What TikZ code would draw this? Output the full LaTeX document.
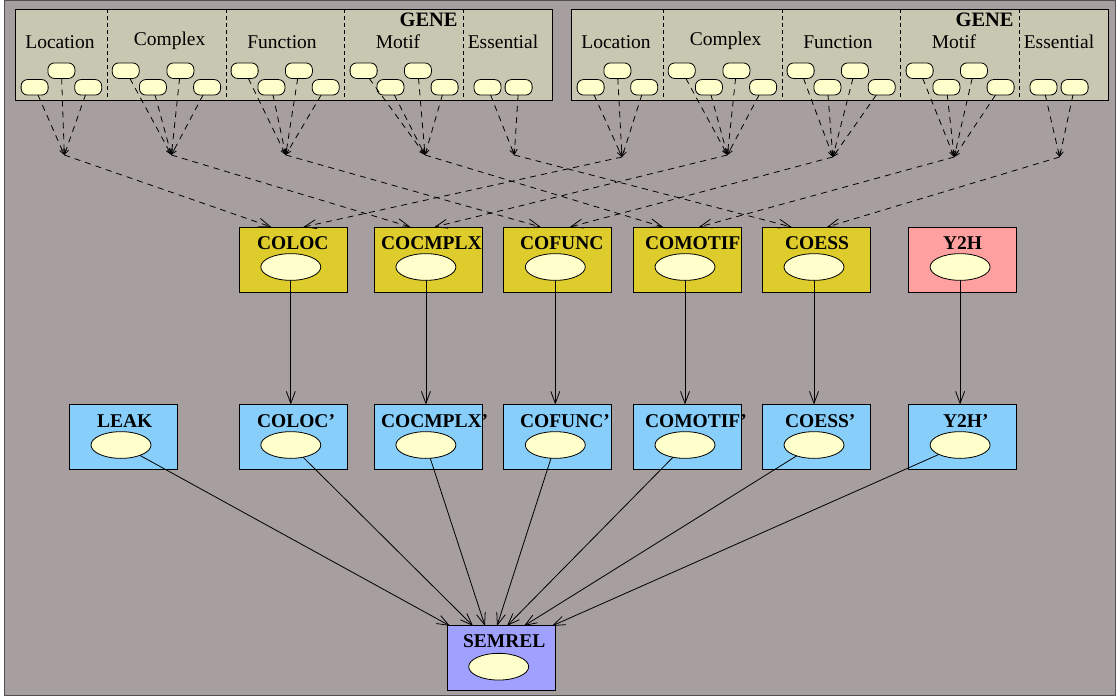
\documentclass[tikz,border=0pt]{standalone}
\usepackage{fontspec}
\setmainfont{Liberation Serif}
\usetikzlibrary{arrows.meta,shapes.geometric}

\definecolor{canvas}{RGB}{166,158,159}
\definecolor{framegray}{RGB}{80,80,80}
\definecolor{genefill}{RGB}{200,200,178}
\definecolor{pillfill}{RGB}{255,255,204}
\definecolor{cofill}{RGB}{221,204,43}
\definecolor{yfill}{RGB}{255,160,160}
\definecolor{bluefill}{RGB}{135,206,250}
\definecolor{semfill}{RGB}{160,160,255}

\begin{document}
\begin{tikzpicture}[x=1pt,y=-1pt,
  every node/.style={inner sep=0pt, outer sep=0pt},
  lbl/.style={anchor=base, font=\fontsize{19.5}{22}\selectfont},
  ttl/.style={anchor=base west, font=\fontsize{19.5}{22}\selectfont\bfseries},
  genebox/.style={draw=black, line width=0.9pt, fill=genefill,
    minimum width=537.5pt, minimum height=91pt},
  pill/.style={draw=black, line width=0.8pt, fill=pillfill, rounded corners=6.5pt,
    minimum width=27pt, minimum height=15.5pt},
  oval/.style={ellipse, draw=black, line width=0.8pt, fill=pillfill,
    minimum width=60pt, minimum height=26.7pt},
  varbox/.style={draw=black, line width=0.9pt, minimum width=108pt, minimum height=65pt},
  cobox/.style={varbox, fill=cofill},
  ybox/.style={varbox, fill=yfill},
  bluebox/.style={varbox, fill=bluefill},
  sembox/.style={varbox, fill=semfill},
  sep/.style={line width=0.7pt, dash pattern=on 4pt off 3pt},
  feed/.style={line width=0.8pt, dash pattern=on 6pt off 5pt,
    -{Straight Barb[length=5pt,width=5pt]}},
  link/.style={line width=0.8pt, dash pattern=on 6pt off 5pt,
    -{Straight Barb[length=12pt,width=9pt]}},
  solidarrow/.style={line width=0.8pt, -{Straight Barb[length=12pt,width=9pt]}}
]
\useasboundingbox (0,0) rectangle (1116,698);
\fill[white] (0,0) rectangle (1116,698);
\draw[fill=canvas, draw=framegray, line width=1pt] (4.6,0.5) rectangle (1115,695.5);

% junction points below the two GENE blocks
\coordinate (ja-loc) at (64.3,155);
\coordinate (ja-cx)  at (171.4,155);
\coordinate (ja-fn)  at (285.7,155);
\coordinate (ja-mo)  at (425,155);
\coordinate (ja-es)  at (514.3,155);
\coordinate (jb-loc) at (622,157);
\coordinate (jb-cx)  at (727.4,155);
\coordinate (jb-fn)  at (832.8,157);
\coordinate (jb-mo)  at (954.2,157);
\coordinate (jb-es)  at (1059.6,157);

% the two GENE blocks
\foreach \g/\ox in {a/15.4, b/571.4}{
  \node[genebox] (gene\g) at (\ox+268.75, 54.8) {};
  \foreach \sx in {91.7,210.7,329.2,447.8}
    \draw[sep] ([xshift=\sx pt]gene\g.north west) -- ([xshift=\sx pt]gene\g.south west);
  \node[anchor=base, font=\fontsize{20.5}{23}\selectfont\bfseries] (title\g) at (\ox+413.2, 26.7) {GENE};
  \node[lbl] (loc\g) at (\ox+44.6, 48.3) {Location};
  \node[lbl] (cx\g)  at (\ox+154.2, 45.7) {Complex};
  \node[lbl] (fn\g)  at (\ox+266.6, 48.3) {Function};
  \node[lbl] (mo\g)  at (\ox+382.6, 48.3) {Motif};
  \node[lbl] (es\g)  at (\ox+487.6, 48.3) {Essential};
  \foreach \p/\px/\py in {L1/19.2/87.3, L2/46/70.7, L3/72.8/87.3,
      C1/110.3/70.7, C2/137.5/87.3, C3/165/70.7, C4/191.7/87.3,
      F1/229.2/70.7, F2/256/87.3, F3/283.5/70.7, F4/310.3/87.3,
      M1/348.2/70.7, M2/375/87.3, M3/402.5/70.7, M4/429.2/87.3,
      E1/472.1/87.3, E2/503.2/87.3}
    \node[pill] (p\g\p) at (\ox+\px, \py) {};
  \foreach \p in {L1,L2,L3} \draw[feed] (p\g\p) -- (j\g-loc);
  \foreach \p in {C1,C2,C3,C4} \draw[feed] (p\g\p) -- (j\g-cx);
  \foreach \p in {F1,F2,F3,F4} \draw[feed] (p\g\p) -- (j\g-fn);
  \foreach \p in {M1,M2,M3,M4} \draw[feed] (p\g\p) -- (j\g-mo);
  \foreach \p in {E1,E2} \draw[feed] (p\g\p) -- (j\g-es);
}

% co-occurrence row
\foreach \n/\cx/\tx/\t/\sty in {coloc/293.3/257/COLOC/cobox, cocmplx/428.4/381/COCMPLX/cobox,
    cofunc/557.8/520/COFUNC/cobox, comotif/687.5/645/COMOTIF/cobox,
    coess/816.5/785/COESS/cobox, ytwoh/962.6/943/Y2H/ybox}{
  \node[\sty] (\n) at (\cx, 259.5) {};
  \node[ttl] (\n-t) at (\tx, 249.3) {\t};
  \node[oval] (\n-o) at (\cx-2.5, 267) {};
}

% observed row
\foreach \n/\cx/\tx/\t in {leak/123.5/97/LEAK, coloc2/293.3/257/COLOC', cocmplx2/428.4/381/COCMPLX',
    cofunc2/557.8/520/COFUNC', comotif2/687.5/645/COMOTIF', coess2/816.5/785/COESS',
    ytwoh2/962.6/943/Y2H'}{
  \node[bluebox] (\n) at (\cx, 437) {};
  \node[ttl] (\n-t) at (\tx, 427.5) {\t};
  \node[oval] (\n-o) at (\cx-2.5, 445) {};
}

% result
\node[sembox] (semrel) at (501.7, 658.4) {};
\node[ttl] (semrel-t) at (463, 647.7) {SEMREL};
\node[oval] (semrel-o) at (498.7, 666.7) {};

% junctions to co-occurrence boxes
\draw[link] (ja-loc) -- ([xshift=-22pt]coloc.north);
\draw[link] (jb-loc) -- ([xshift=10pt]coloc.north);
\draw[link] (ja-cx)  -- ([xshift=-18pt]cocmplx.north);
\draw[link] (jb-cx)  -- ([xshift=6pt]cocmplx.north);
\draw[link] (ja-fn)  -- ([xshift=-17pt]cofunc.north);
\draw[link] (jb-fn)  -- ([xshift=12pt]cofunc.north);
\draw[link] (ja-mo)  -- ([xshift=-24.5pt]comotif.north);
\draw[link] (jb-mo)  -- ([xshift=11.5pt]comotif.north);
\draw[link] (ja-es)  -- ([xshift=-25pt]coess.north);
\draw[link] (jb-es)  -- ([xshift=10.5pt]coess.north);

% hidden to observed
\foreach \n in {coloc,cocmplx,cofunc,comotif,coess,ytwoh}
  \draw[solidarrow] (\n-o.south) -- (\n-o.south |- \n2.north);

% observed to SEMREL
\foreach \n/\dx in {leak/-51.7, coloc2/-28.7, cocmplx2/-16.7, cofunc2/-4.7,
    comotif2/5.3, coess2/22.3, ytwoh2/50.3}
  \draw[solidarrow] (\n-o) -- ([xshift=\dx pt]semrel.north);
\end{tikzpicture}
\end{document}
